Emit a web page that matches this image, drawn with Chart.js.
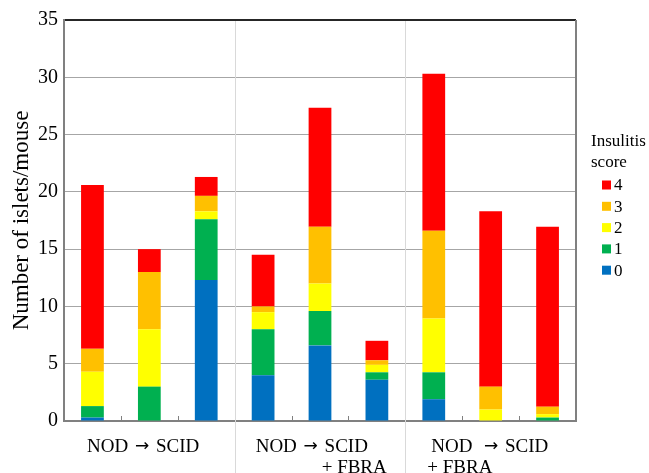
<!DOCTYPE html>
<html>
<head>
<meta charset="utf-8">
<title>Insulitis score</title>
<script src="https://cdn.jsdelivr.net/npm/chart.js@4.4.1/dist/chart.umd.min.js"></script>
<style>
    body { margin: 0; background: #fff; }
    #grafico { display: block; }
</style>
</head>
<body>
<canvas id="grafico" width="649" height="473"></canvas>
<script>
// Categorias (uma barra por camundongo/grupo)
const categorias = ['1', '2', '3', '4', '5', '6', '7', '8', '9'];

// Rótulos dos grupos (3 barras por grupo)
const grupos = [
    ['NOD \u2192 SCID'],
    ['NOD \u2192 SCID', '+ FBRA'],
    ['NOD  \u2192 SCID', '+ FBRA']
];

// Valores por score de insulite (de baixo para cima)
const score0 = [0.3, 0, 12.3, 4.0, 6.6, 3.6, 1.9, 0, 0];
const score1 = [1.0, 3.0, 5.3, 4.0, 3.0, 0.65, 2.35, 0, 0.3];
const score2 = [3.0, 5.0, 0.7, 1.5, 2.4, 0.65, 4.7, 1.0, 0.3];
const score3 = [2.0, 5.0, 1.35, 0.5, 4.95, 0.4, 7.65, 2.0, 0.65];
const score4 = [14.3, 2.0, 1.65, 4.5, 10.4, 1.7, 13.7, 15.3, 15.7];

const rotulosScore = ['0', '1', '2', '3', '4'];
const cores = ['#0070C0', '#00B050', '#FFFF00', '#FFC000', '#FF0000'];

// Ticks do eixo y
const yMin = 0;
const yMax = 35;
const yPasso = 5;

const fonte = '"Liberation Serif", "Times New Roman", serif';

// Escreve uma linha com a seta numa fonte maior (como no original)
function escreverLinha(ctx, txt, x, y) {
    const partes = txt.split('\u2192');
    let cx = x;
    partes.forEach((p, i) => {
        if (i > 0) {
            ctx.font = '17px "DejaVu Sans"';
            cx += 2;
            ctx.fillText('\u2192', cx, y);
            cx += ctx.measureText('\u2192').width + 2;
        }
        ctx.font = '19px ' + fonte;
        ctx.fillText(p, cx, y);
        cx += ctx.measureText(p).width;
    });
}

// Desenhos extras: borda direita, separadores, rótulos dos grupos e legenda
const desenhoExtra = {
    id: 'desenhoExtra',
    beforeDatasetsDraw(chart) {
        const { ctx, chartArea: area, scales: { x } } = chart;
        const passo = x.getPixelForValue(1) - x.getPixelForValue(0);
        ctx.save();
        ctx.lineWidth = 1;
        for (let i = 1; i < categorias.length; i++) {
            const px = Math.round(x.getPixelForValue(i) - passo / 2) + 0.5;
            if (i % 3 === 0) {
                ctx.strokeStyle = '#d9d9d9';
                ctx.beginPath();
                ctx.moveTo(px, area.top + 1);
                ctx.lineTo(px, chart.height);
                ctx.stroke();
            } else {
                ctx.strokeStyle = '#808080';
                ctx.beginPath();
                ctx.moveTo(px, area.bottom - 5);
                ctx.lineTo(px, area.bottom);
                ctx.stroke();
            }
        }
        ctx.restore();
    },
    afterDraw(chart) {
        const { ctx, chartArea: area, scales: { x } } = chart;
        const passo = x.getPixelForValue(1) - x.getPixelForValue(0);
        ctx.save();

        // borda direita
        ctx.strokeStyle = '#808080';
        ctx.lineWidth = 2;
        ctx.beginPath();
        ctx.moveTo(area.right, area.top);
        ctx.lineTo(area.right, area.bottom);
        ctx.stroke();

        // rótulos dos grupos
        ctx.fillStyle = '#000';
        ctx.textBaseline = 'middle';
        ctx.textAlign = 'left';
        const desloc = [[23], [21, 87], [26, 22]];
        grupos.forEach((linhas, g) => {
            const inicio = x.getPixelForValue(g * 3) - passo / 2;
            linhas.forEach((txt, j) => {
                escreverLinha(ctx, txt, inicio + desloc[g][j], area.bottom + 26 + j * 21);
            });
        });

        // legenda
        ctx.font = '17px ' + fonte;
        const lx = area.right + 15;
        ctx.fillText('Insulitis', lx, 142);
        ctx.fillText('score', lx, 163);
        const itens = chart.data.datasets.slice().reverse();
        itens.forEach((ds, k) => {
            const ly = 185 + k * 21.3;
            ctx.fillStyle = ds.backgroundColor;
            ctx.fillRect(lx + 11, ly - 4.5, 9, 9);
            ctx.fillStyle = '#000';
            ctx.fillText(ds.label, lx + 23, ly + 1);
        });
        ctx.restore();
    }
};

const series = [score0, score1, score2, score3, score4];

new Chart(document.getElementById('grafico').getContext('2d'), {
    type: 'bar',
    data: {
        labels: categorias,
        datasets: series.map((valores, i) => ({
            label: rotulosScore[i],
            data: valores,
            backgroundColor: cores[i],
            borderWidth: 0,
            barPercentage: 0.4,
            categoryPercentage: 1
        }))
    },
    options: {
        responsive: false,
        devicePixelRatio: 1,
        animation: false,
        layout: {
            padding: { top: 20, right: 73, left: 0, bottom: 0 }
        },
        plugins: {
            legend: { display: false },
            tooltip: { enabled: false }
        },
        scales: {
            x: {
                stacked: true,
                grid: { display: false },
                ticks: { display: false },
                border: { display: true, color: '#808080', width: 2 },
                afterFit(scale) { scale.height = 52; }
            },
            y: {
                stacked: true,
                min: yMin,
                max: yMax,
                ticks: {
                    stepSize: yPasso,
                    color: '#000',
                    padding: 6,
                    font: { family: fonte, size: 20 }
                },
                grid: {
                    drawTicks: false,
                    color: c => c.tick && c.tick.value === yMax ? '#262626' : '#a6a6a6',
                    lineWidth: c => c.tick && c.tick.value === yMax ? 2 : 1
                },
                border: { display: true, color: '#808080', width: 2 },
                title: {
                    display: true,
                    text: 'Number of islets/mouse',
                    color: '#000',
                    font: { family: fonte, size: 23 },
                    padding: { top: 8, bottom: 0 }
                },
                afterFit(scale) { scale.width = 64; }
            }
        }
    },
    plugins: [desenhoExtra]
});
</script>
</body>
</html>
